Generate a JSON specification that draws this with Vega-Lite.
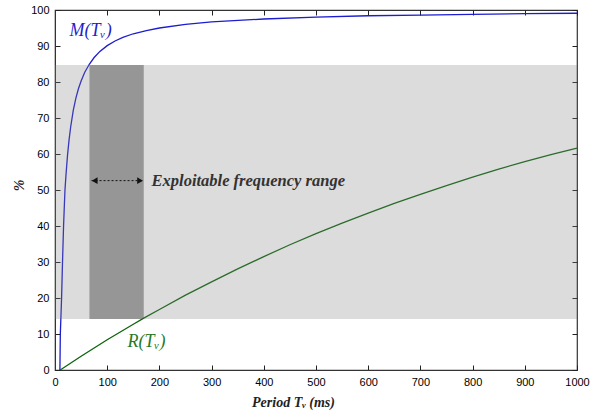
{
  "$schema": "https://vega.github.io/schema/vega-lite/v6.json",
  "width": 522,
  "height": 360,
  "autosize": {"type": "none"},
  "padding": {"left": 55, "top": 10, "right": 23, "bottom": 50},
  "background": "white",
  "config": {
    "view": {"stroke": "#333", "strokeWidth": 1.2},
    "axis": {
      "grid": false,
      "domainColor": "#333",
      "tickColor": "#222",
      "labelColor": "#000",
      "labelFont": "Liberation Sans",
      "labelFontSize": 11,
      "labelFlush": false,
      "tickSize": -5,
      "labelPadding": 11
    }
  },
  "datasets": {
    "M": [
      {"T": 9.4, "value": 0}, {"T": 9.8, "value": 5}, {"T": 10.2, "value": 10}, {"T": 11.4, "value": 15},
      {"T": 12.6, "value": 20}, {"T": 14.4, "value": 30}, {"T": 16.4, "value": 40}, {"T": 19.1, "value": 50},
      {"T": 21, "value": 54.1}, {"T": 24, "value": 59.7}, {"T": 27, "value": 64}, {"T": 30, "value": 67.5},
      {"T": 35, "value": 72.1}, {"T": 40, "value": 75.5}, {"T": 45, "value": 78.2}, {"T": 50, "value": 80.3},
      {"T": 57, "value": 82.7}, {"T": 66, "value": 85}, {"T": 75, "value": 86.8}, {"T": 86, "value": 88.5},
      {"T": 100, "value": 90.1}, {"T": 115, "value": 91.4}, {"T": 130, "value": 92.4}, {"T": 150, "value": 93.4},
      {"T": 175, "value": 94.3}, {"T": 200, "value": 95}, {"T": 250, "value": 96}, {"T": 300, "value": 96.7},
      {"T": 400, "value": 97.5}, {"T": 500, "value": 98}, {"T": 600, "value": 98.4}, {"T": 700, "value": 98.6},
      {"T": 800, "value": 98.8}, {"T": 900, "value": 99}, {"T": 1000, "value": 99.1}
    ],
    "R": [
      {"T": 10, "value": 0}, {"T": 50, "value": 3.8}, {"T": 100, "value": 8.4}, {"T": 150, "value": 12.7},
      {"T": 170, "value": 14.4}, {"T": 200, "value": 16.8}, {"T": 250, "value": 20.8}, {"T": 300, "value": 24.5},
      {"T": 350, "value": 28.1}, {"T": 400, "value": 31.5}, {"T": 450, "value": 34.8}, {"T": 500, "value": 37.9},
      {"T": 550, "value": 40.8}, {"T": 600, "value": 43.6}, {"T": 650, "value": 46.3}, {"T": 700, "value": 48.8},
      {"T": 750, "value": 51.2}, {"T": 800, "value": 53.6}, {"T": 850, "value": 55.8}, {"T": 900, "value": 57.9},
      {"T": 950, "value": 59.8}, {"T": 1000, "value": 61.6}
    ],
    "bands": [
      {"name": "shaded", "x1": 0, "x2": 1000, "y1": 14.2, "y2": 84.7},
      {"name": "exploitable", "x1": 66, "x2": 170, "y1": 14.2, "y2": 84.7}
    ],
    "arrow": [
      {"a": 70, "b": 169, "y": 52.6}
    ],
    "heads": [
      {"T": 76, "y": 52.6, "dir": "left"},
      {"T": 163, "y": 52.6, "dir": "right"}
    ],
    "notes": [
      {"T": 185, "y": 52.4, "label": "Exploitable frequency range"}
    ],
    "curveLabels": [
      {"T": 28, "y": 94.3, "label": "M(Tᵥ)", "series": "M"},
      {"T": 139, "y": 7.8, "label": "R(Tᵥ)", "series": "R"}
    ]
  },
  "layer": [
    {
      "data": {"name": "M"},
      "mark": {"type": "line", "color": "#1c1cd0", "strokeWidth": 1.3},
      "encoding": {
        "x": {
          "field": "T", "type": "quantitative",
          "scale": {"domain": [0, 1000], "nice": false},
          "axis": {
            "orient": "bottom",
            "values": [0, 100, 200, 300, 400, 500, 600, 700, 800, 900, 1000],
            "format": "d",
            "title": "Period Tᵥ (ms)",
            "titleFont": "Liberation Serif",
            "titleFontStyle": "italic",
            "titleFontWeight": "bold",
            "titleFontSize": 14,
            "titleColor": "#222",
            "titleX": 238,
            "titleY": 36,
            "titleAlign": "center",
            "titleBaseline": "alphabetic"
          }
        },
        "y": {
          "field": "value", "type": "quantitative",
          "scale": {"domain": [0, 100], "nice": false},
          "axis": {
            "orient": "left",
            "values": [0, 10, 20, 30, 40, 50, 60, 70, 80, 90, 100],
            "title": "%",
            "titleFont": "Liberation Serif",
            "titleFontStyle": "italic",
            "titleFontSize": 14,
            "titleColor": "#222",
            "titleX": -36,
            "titleY": 175,
            "titleAngle": -90,
            "titleAlign": "center",
            "titleBaseline": "middle"
          }
        }
      }
    },
    {
      "data": {"name": "R"},
      "mark": {"type": "line", "color": "#0b640b", "strokeWidth": 1.3},
      "encoding": {
        "x": {
          "field": "T", "type": "quantitative",
          "axis": {"orient": "top", "values": [0, 100, 200, 300, 400, 500, 600, 700, 800, 900, 1000], "labels": false, "title": null, "domain": false}
        },
        "y": {
          "field": "value", "type": "quantitative",
          "axis": {"orient": "right", "values": [0, 10, 20, 30, 40, 50, 60, 70, 80, 90, 100], "labels": false, "title": null, "domain": false}
        }
      }
    },
    {
      "data": {"name": "bands"},
      "transform": [{"filter": "datum.name === 'shaded'"}],
      "mark": {"type": "rect", "color": "#808080", "opacity": 0.28},
      "encoding": {
        "x": {"field": "x1", "type": "quantitative", "axis": null},
        "x2": {"field": "x2"},
        "y": {"field": "y1", "type": "quantitative", "axis": null},
        "y2": {"field": "y2"}
      }
    },
    {
      "data": {"name": "bands"},
      "transform": [{"filter": "datum.name === 'exploitable'"}],
      "mark": {"type": "rect", "color": "#404040", "opacity": 0.45},
      "encoding": {
        "x": {"field": "x1", "type": "quantitative", "axis": null},
        "x2": {"field": "x2"},
        "y": {"field": "y1", "type": "quantitative", "axis": null},
        "y2": {"field": "y2"}
      }
    },
    {
      "data": {"name": "arrow"},
      "mark": {"type": "rule", "color": "#111", "strokeDash": [2, 2], "strokeWidth": 1},
      "encoding": {
        "x": {"field": "a", "type": "quantitative", "axis": null},
        "x2": {"field": "b"},
        "y": {"field": "y", "type": "quantitative", "axis": null}
      }
    },
    {
      "data": {"name": "heads"},
      "transform": [{"filter": "datum.dir === 'left'"}],
      "mark": {"type": "point", "shape": "triangle-left", "filled": true, "color": "#111", "opacity": 1, "size": 45},
      "encoding": {
        "x": {"field": "T", "type": "quantitative", "axis": null},
        "y": {"field": "y", "type": "quantitative", "axis": null}
      }
    },
    {
      "data": {"name": "heads"},
      "transform": [{"filter": "datum.dir === 'right'"}],
      "mark": {"type": "point", "shape": "triangle-right", "filled": true, "color": "#111", "opacity": 1, "size": 45},
      "encoding": {
        "x": {"field": "T", "type": "quantitative", "axis": null},
        "y": {"field": "y", "type": "quantitative", "axis": null}
      }
    },
    {
      "data": {"name": "notes"},
      "mark": {"type": "text", "align": "left", "baseline": "middle", "font": "Liberation Serif", "fontStyle": "italic", "fontWeight": "bold", "fontSize": 16.5, "color": "#333"},
      "encoding": {
        "x": {"field": "T", "type": "quantitative", "axis": null},
        "y": {"field": "y", "type": "quantitative", "axis": null},
        "text": {"field": "label"}
      }
    },
    {
      "data": {"name": "curveLabels"},
      "mark": {"type": "text", "align": "left", "baseline": "middle", "font": "Liberation Serif", "fontStyle": "italic", "fontSize": 18},
      "encoding": {
        "x": {"field": "T", "type": "quantitative", "axis": null},
        "y": {"field": "y", "type": "quantitative", "axis": null},
        "text": {"field": "label"},
        "color": {"field": "series", "type": "nominal", "scale": {"domain": ["M", "R"], "range": ["#1f1fcc", "#267a26"]}, "legend": null}
      }
    }
  ],
  "resolve": {"axis": {"x": "independent", "y": "independent"}}
}
